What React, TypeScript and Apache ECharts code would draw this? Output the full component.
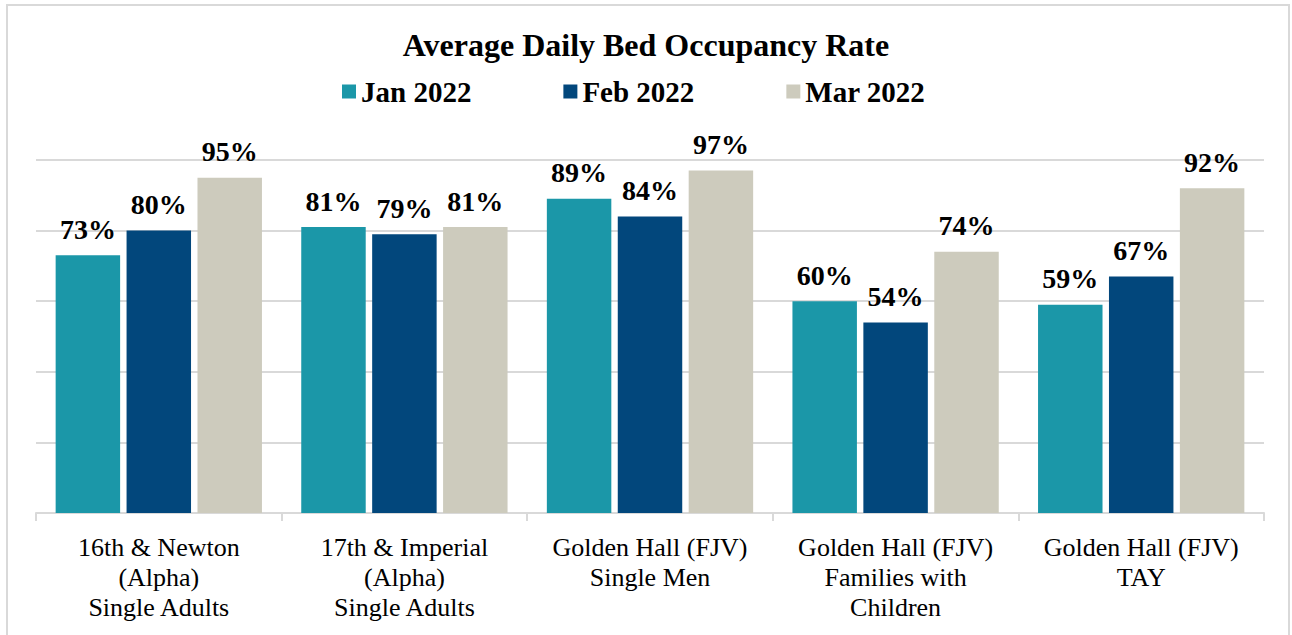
import React, { useEffect, useRef } from "react";
import * as echarts from "echarts";

const categories = [
  "16th & Newton\n(Alpha)\nSingle Adults",
  "17th & Imperial\n(Alpha)\nSingle Adults",
  "Golden Hall (FJV)\nSingle Men",
  "Golden Hall (FJV)\nFamilies with\nChildren",
  "Golden Hall (FJV)\nTAY",
];
const seriesNames = ["Jan 2022", "Feb 2022", "Mar 2022"];
const jan = [73, 81, 89, 60, 59];
const feb = [80, 79, 84, 54, 67];
const mar = [95, 81, 97, 74, 92];
const colors = ["#1b97a8", "#02477c", "#cdcbbd"];

const FONT = "Liberation Serif, Times New Roman, serif";

export default function App() {
  const ref = useRef<HTMLDivElement>(null);
  useEffect(() => {
    if (!ref.current) return;
    const chart = echarts.init(ref.current, undefined, { renderer: "svg" });
    const values = [jan, feb, mar];
    chart.setOption({
      animation: false,
      backgroundColor: "#ffffff",
      textStyle: { fontFamily: FONT },
      title: {
        text: "Average Daily Bed Occupancy Rate",
        left: "center",
        top: 24,
        textStyle: { fontFamily: FONT, fontSize: 32, fontWeight: "bold", color: "#000" },
      },
      legend: {
        data: seriesNames,
        top: 72,
        left: 337,
        itemWidth: 14,
        itemHeight: 14,
        itemGap: 92,
        icon: "rect",
        textStyle: { fontFamily: FONT, fontSize: 29, fontWeight: "bold", color: "#000" },
      },
      graphic: [
        {
          type: "rect",
          shape: { x: 7, y: 5, width: 1282, height: 640 },
          style: { fill: "none", stroke: "#d9d9d9", lineWidth: 2 },
          silent: true,
        },
      ],
      grid: { left: 36, right: 28, top: 160, bottom: 122 },
      xAxis: {
        type: "category",
        data: categories,
        axisLine: { lineStyle: { color: "#d9d9d9", width: 2 } },
        axisTick: { show: true, length: 8, lineStyle: { color: "#d9d9d9", width: 2 } },
        axisLabel: {
          fontFamily: FONT,
          fontSize: 26,
          color: "#000",
          lineHeight: 30,
          margin: 19,
          interval: 0,
        },
      },
      yAxis: {
        type: "value",
        min: 0,
        max: 100,
        interval: 20,
        axisLabel: { show: false },
        axisLine: { show: false },
        axisTick: { show: false },
        splitLine: { lineStyle: { color: "#d9d9d9", width: 2 } },
      },
      series: seriesNames.map((name, i) => ({
        name,
        type: "bar",
        data: values[i],
        itemStyle: { color: colors[i] },
        barGap: "10%",
        barCategoryGap: "16%",
        label: {
          show: true,
          position: "top",
          distance: 12,
          formatter: "{c}%",
          fontFamily: FONT,
          fontSize: 28,
          fontWeight: "bold",
          color: "#000",
        },
      })),
    });
    return () => chart.dispose();
  }, []);
  return (
    <div
      ref={ref}
      style={{ position: "absolute", left: 0, top: 0, width: 1292, height: 635 }}
    />
  );
}
